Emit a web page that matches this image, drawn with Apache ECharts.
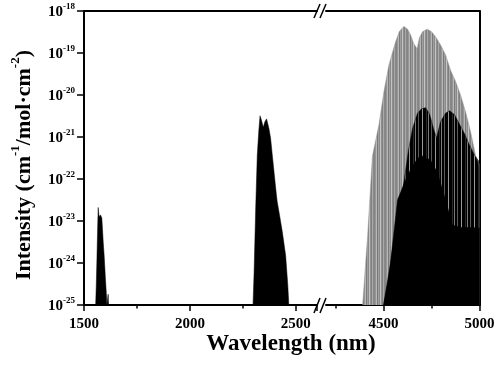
<!DOCTYPE html>
<html>
<head>
<meta charset="utf-8">
<title>Intensity spectrum</title>
<script src="https://cdn.jsdelivr.net/npm/echarts@6/dist/echarts.min.js"></script>
<style>
  html, body { margin: 0; padding: 0; background: #fff; }
  #chart { width: 498px; height: 366px; }
</style>
</head>
<body>
<div id="chart"></div>
<script>
// band near 1.57 um
const band1Wavelength = [1555, 1558, 1561, 1563, 1565, 1567, 1570, 1573, 1577, 1581, 1584, 1587, 1591, 1595, 1601, 1606, 1608, 1612, 1614, 1616]
const band1Intensity = [1e-25, 3e-25, 1.2e-24, 3.5e-24, 9e-24, 2.1e-23, 1.4e-23, 1.25e-23, 1.4e-23, 1.55e-23, 1.2e-23, 6.8e-24, 3e-24, 1.55e-24, 4.4e-25, 1.7e-25, 1e-25, 1e-25, 1.8e-25, 1e-25]

// band near 2.35 um
const band2Wavelength = [2298, 2303, 2311, 2318, 2325, 2331, 2338, 2346, 2354, 2362, 2373, 2381, 2389, 2405, 2412, 2424, 2436, 2452, 2462, 2467]
const band2Intensity = [1e-25, 6e-25, 2.4e-23, 3.7e-22, 1.35e-21, 3.2e-21, 2.5e-21, 1.7e-21, 2.3e-21, 2.7e-21, 1.6e-21, 9.3e-22, 3.7e-22, 6e-23, 2.9e-23, 1.3e-23, 5.6e-24, 1.5e-24, 3e-25, 1e-25]

// grey lines, 4.4 - 5.0 um
const greyWavelength = [4391, 4417, 4442, 4476, 4502, 4528, 4563, 4583, 4606, 4625, 4641, 4656, 4675, 4687, 4703, 4728, 4750, 4771, 4797, 4823, 4849, 4875, 4901, 4927, 4953, 4979, 5000]
const greyIntensity = [1e-25, 4.4e-24, 3.5e-22, 1.95e-21, 1.2e-20, 5.2e-20, 1.86e-19, 3.3e-19, 4.3e-19, 3.7e-19, 2.7e-19, 1.7e-19, 1.25e-19, 2.3e-19, 3.2e-19, 3.7e-19, 3.2e-19, 2.45e-19, 1.55e-19, 9e-20, 3.9e-20, 2.1e-20, 1e-20, 4e-21, 1.35e-21, 3.7e-22, 2.1e-22]

// black lines, 4.5 - 5.0 um (upper lobes)
const blackWavelength = [4500, 4526, 4547, 4578, 4604, 4630, 4651, 4677, 4698, 4719, 4740, 4760, 4776, 4797, 4823, 4844, 4870, 4896, 4922, 4948, 4974, 5000]
const blackIntensity = [1e-25, 4e-25, 2e-24, 1.4e-23, 7.2e-23, 4.9e-22, 1.6e-21, 3.7e-21, 4.7e-21, 5e-21, 3.5e-21, 1.6e-21, 9.5e-22, 2.3e-21, 3.7e-21, 4.2e-21, 3.4e-21, 2e-21, 1.2e-21, 6.4e-22, 3.7e-22, 2.5e-22]

// dense black core
const coreWavelength = [4500, 4536, 4573, 4615, 4651, 4693, 4745, 4781, 4823, 4859, 4901, 4953, 5000]
const coreIntensity = [1e-25, 1e-24, 3.2e-23, 9.5e-23, 2.1e-22, 3.7e-22, 2.8e-22, 1.4e-22, 3.2e-23, 8e-24, 7e-24, 7e-24, 6.8e-24]

const leftLabels = [1500, 2000, 2500]
const rightLabels = [4500, 5000]
const rightMinorTicks = [4250, 4750]
const yTicks = [1e-25, 1e-24, 1e-23, 1e-22, 1e-21, 1e-20, 1e-19, 1e-18]
const yMin = 1e-25
const yMax = 1e-18

const FONT = '"Liberation Serif", "Times New Roman", serif'

function pairs (xs, ys) {
  return xs.map((x, i) => [x, ys[i]])
}

// vertical stripe patterns for the dense line forests
function stripes (cols) {
  const c = document.createElement('canvas')
  c.width = cols.length
  c.height = 4
  const ctx = c.getContext('2d')
  cols.forEach((col, i) => {
    ctx.fillStyle = col
    ctx.fillRect(i, 0, 1, 4)
  })
  return { image: c, repeat: 'repeat' }
}

const greyPattern = stripes(['#858585', '#969696', '#b8b8b8', '#7a7a7a', '#a0a0a0', '#8a8a8a', '#c4c4c4', '#909090', '#808080', '#aaaaaa', '#888888'])
const blackPattern = stripes(['#000', '#000', '#5a5a5a', '#000', '#000', '#000', '#9a9a9a', '#000', '#000', '#000', '#2a2a2a', '#000', '#7a7a7a'])

const chart = echarts.init(document.getElementById('chart'), null, { renderer: 'canvas' })

const axisLineStyle = { lineStyle: { color: '#000', width: 2 } }
const labelStyle = { color: '#000', fontFamily: FONT, fontWeight: 'bold', fontSize: 15, margin: 12 }

function areaSeries (xIdx, yIdx, xs, ys, lineColor, fill) {
  return {
    type: 'line', xAxisIndex: xIdx, yAxisIndex: yIdx, symbol: 'none',
    data: pairs(xs, ys),
    lineStyle: { color: lineColor, width: 0.5 },
    areaStyle: { color: fill, opacity: 1, origin: yMin }
  }
}

const option = {
  animation: false,
  grid: [
    { left: 84, top: 11, width: 233, height: 294, outerBoundsMode: 'none', containLabel: false },
    { left: 326, top: 11, width: 153.5, height: 294, outerBoundsMode: 'none', containLabel: false }
  ],
  xAxis: [
    {
      gridIndex: 0, type: 'value', position: 'bottom', min: 1500, max: 2600, interval: 500,
      axisLine: axisLineStyle,
      axisTick: { show: true, inside: false, length: 6, lineStyle: { color: '#000', width: 1.5 } },
      minorTick: { show: true, splitNumber: 2, length: 3.5, lineStyle: { color: '#000', width: 1.5 } },
      axisLabel: Object.assign({}, labelStyle, { showMaxLabel: false, formatter: v => leftLabels.includes(v) ? String(v) : '' }),
      splitLine: { show: false }
    },
    {
      gridIndex: 0, type: 'value', position: 'top', min: 1500, max: 2600,
      axisLine: axisLineStyle, axisTick: { show: false }, axisLabel: { show: false }, splitLine: { show: false }
    },
    {
      gridIndex: 1, type: 'value', position: 'bottom', min: 4200, max: 5000,
      axisLine: axisLineStyle,
      axisTick: { show: true, inside: false, length: 6, customValues: rightLabels, lineStyle: { color: '#000', width: 1.5 } },
      axisLabel: Object.assign({}, labelStyle, { customValues: rightLabels, formatter: v => String(v) }),
      splitLine: { show: false }
    },
    {
      gridIndex: 1, type: 'value', position: 'bottom', min: 4200, max: 5000,
      axisLine: { show: false },
      axisTick: { show: true, inside: false, length: 3.5, customValues: rightMinorTicks, lineStyle: { color: '#000', width: 1.5 } },
      axisLabel: { show: false },
      splitLine: { show: false }
    },
    {
      gridIndex: 1, type: 'value', position: 'top', min: 4200, max: 5000,
      axisLine: axisLineStyle, axisTick: { show: false }, axisLabel: { show: false }, splitLine: { show: false }
    }
  ],
  yAxis: [
    {
      gridIndex: 0, type: 'log', logBase: 10, min: yMin, max: yMax, position: 'left',
      axisLine: { show: true, lineStyle: { color: '#000', width: 2 } },
      axisTick: { show: true, inside: false, length: 7, customValues: yTicks, lineStyle: { color: '#000', width: 1.5 } },
      axisLabel: {
        margin: 9,
        customValues: yTicks,
        hideOverlap: false,
        formatter: v => '{b|10}{s|' + Math.round(Math.log10(v)) + '}',
        rich: {
          b: { fontFamily: FONT, fontWeight: 'bold', fontSize: 15, color: '#000', lineHeight: 18, verticalAlign: 'bottom', padding: [4, 0, 0, 0] },
          s: { fontFamily: FONT, fontWeight: 'bold', fontSize: 9, color: '#000', lineHeight: 10, verticalAlign: 'top' }
        }
      },
      splitLine: { show: false }
    },
    {
      gridIndex: 1, type: 'log', logBase: 10, min: yMin, max: yMax, position: 'right',
      axisLine: { show: true, lineStyle: { color: '#000', width: 2 } },
      axisTick: { show: false }, axisLabel: { show: false }, splitLine: { show: false }
    }
  ],
  graphic: [
    // axis break marks
    { type: 'line', shape: { x1: 314, y1: 313, x2: 320, y2: 298 }, style: { stroke: '#000', lineWidth: 1.5 } },
    { type: 'line', shape: { x1: 320, y1: 313, x2: 326, y2: 298 }, style: { stroke: '#000', lineWidth: 1.5 } },
    { type: 'line', shape: { x1: 314, y1: 18, x2: 320, y2: 4 }, style: { stroke: '#000', lineWidth: 1.5 } },
    { type: 'line', shape: { x1: 320, y1: 18, x2: 326, y2: 4 }, style: { stroke: '#000', lineWidth: 1.5 } },
    {
      type: 'text', x: 291, y: 344,
      style: { text: 'Wavelength (nm)', fill: '#000', font: 'bold 23px ' + FONT, align: 'center', verticalAlign: 'middle' }
    },
    {
      type: 'text', x: 22, y: 165, rotation: Math.PI / 2,
      style: {
        text: '{t|Intensity (cm}{s|-1}{t|/mol·cm}{s|-2}{t|)}',
        align: 'center',
        verticalAlign: 'middle',
        rich: {
          t: { fontFamily: FONT, fontWeight: 'bold', fontSize: 22, fill: '#000', lineHeight: 26, verticalAlign: 'bottom' },
          s: { fontFamily: FONT, fontWeight: 'bold', fontSize: 13, fill: '#000', lineHeight: 12, verticalAlign: 'top' }
        }
      }
    }
  ],
  series: [
    areaSeries(0, 0, band1Wavelength, band1Intensity, '#000', '#000'),
    areaSeries(0, 0, band2Wavelength, band2Intensity, '#000', '#000'),
    areaSeries(2, 1, greyWavelength, greyIntensity, '#8a8a8a', greyPattern),
    areaSeries(2, 1, blackWavelength, blackIntensity, '#000', blackPattern),
    areaSeries(2, 1, coreWavelength, coreIntensity, '#000', '#000')
  ]
}

chart.setOption(option)
</script>
</body>
</html>
